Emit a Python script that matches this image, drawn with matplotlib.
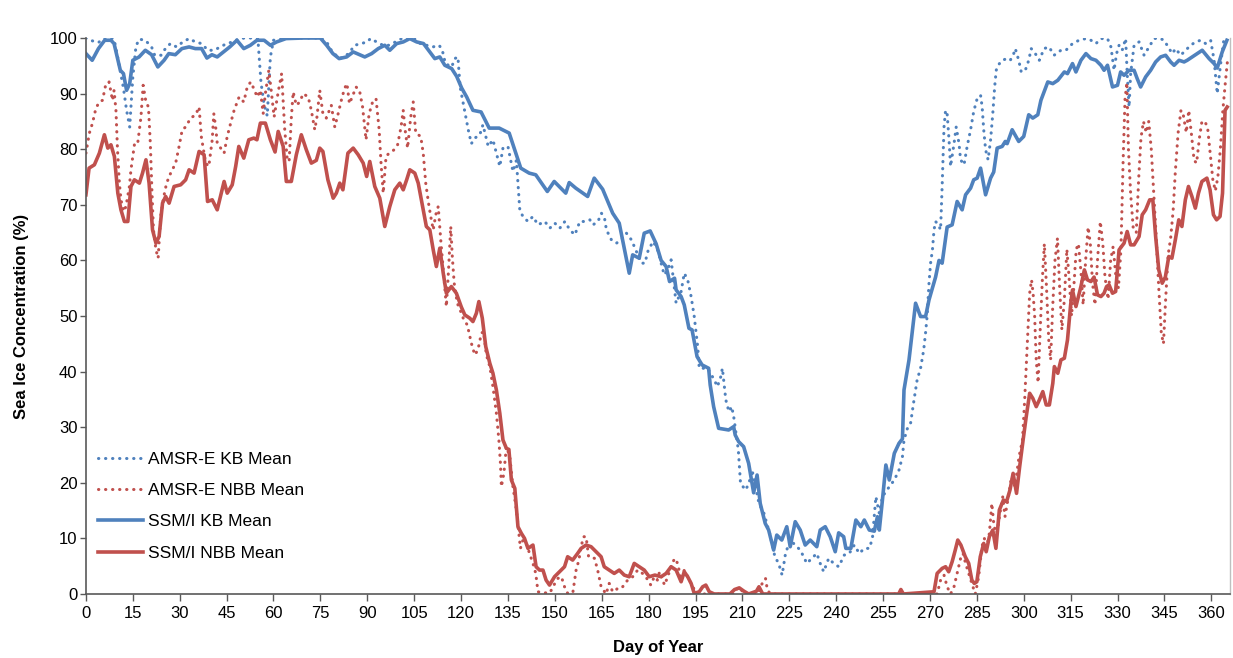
import matplotlib
matplotlib.use('Agg')
import matplotlib.pyplot as plt

plt.rcParams['font.family'] = ['Liberation Sans', 'DejaVu Sans']

# SSM/I KB Mean (solid blue)
ssmi_kb_day = [0, 2, 4, 6, 8, 9, 10, 11, 12, 13, 14, 15, 17, 19, 21, 23, 25, 26.5, 28.6, 30.7,
               33, 35, 37, 38.7, 40.3, 42, 44, 46, 48.3, 50.5, 52.6, 54.7, 57, 59, 61, 64, 69.5, 75, 77, 79,
               81, 83.4, 85.5, 87.6, 89.2, 91.4, 93.5, 95.6, 97.2, 99.4, 101.5, 103.6, 105.8, 108, 110, 111.6,
               113.2, 114.8, 117, 118.6, 120.2, 121.8, 123.8, 126.4, 129, 132.2, 135.4, 139.1, 141.8, 143.9,
               147.6, 149.8, 153.5, 154.6, 156.7, 160.5, 162.6, 165.3, 168.5, 170.6, 173.8, 174.9, 177, 178.6,
               180.5, 182.4, 184, 185.6, 186.7, 188.3, 188.8, 190.4, 191.4, 192.9, 193.9, 195.5, 197.1, 199.2,
               199.7, 200.8, 202.4, 205.6, 207.2, 207.7, 208.8, 210.4, 212, 213.6, 214.7, 215.7, 217.3, 218.4,
               220, 221, 222.6, 224.2, 225.3, 226.9, 228.5, 230.1, 231.7, 233.8, 234.9, 236.5, 238.1, 239.7,
               240.8, 242.4, 243.1, 244.7, 246.3, 247.9, 249, 250.6, 252.2, 253.2, 253.8, 254.8, 255.9, 257,
               258.6, 260.1, 261.2, 261.7, 263.3, 264.4, 265.4, 267, 268.6, 269.7, 271.8, 272.9, 273.9, 275.5,
               277.1, 278.7, 280.3, 281.4, 283, 284, 285.1, 286.2, 287.8, 289.4, 290.4, 291.5, 293.1, 294.1,
               294.7, 296.3, 298.4, 300, 301.6, 302.9, 304.5, 305.5, 307.7, 309.3, 310.9, 313, 314, 315.6,
               316.7, 318.3, 319.9, 321.5, 323.1, 324.7, 325.7, 326.8, 328.4, 330, 331, 332.1, 333.7, 335.3,
               336.3, 337.4, 339, 340.6, 342.2, 343.8, 345.4, 347, 348.1, 349.7, 351.3, 352.3, 353.9, 355.5,
               357.1, 359.3, 360.9, 361.9, 363.5, 365]
ssmi_kb_val = [97.2, 96, 98.1, 99.6, 99.6, 99, 96.6, 94.2, 93.6, 90.6, 91.8, 96, 96.6, 97.8, 97, 94.8, 96, 97.2, 97, 98.1,
               98.4, 98.1, 98.1, 96.4, 97, 96.6, 97.5, 98.4, 99.6, 98.1, 98.7, 99.6, 99.6, 98.7, 99.3, 99.9, 100, 100, 98.7, 97.2,
               96.3, 96.6, 97.5, 97, 96.6, 97.2, 98.1, 98.7, 97.8, 99, 99.3, 99.9, 99.3, 99, 97.5, 96.3,
               96.6, 95.1, 94.5, 93.1, 91, 89.4, 87, 86.7, 83.8, 83.8, 82.9, 76.6, 75.7, 75.4,
               72.4, 74.2, 72.1, 74, 73, 71.5, 74.8, 72.8, 68.5, 66.7, 57.7, 61, 60.4, 64.9,
               65.3, 63, 60, 58.9, 56.2, 56.8, 54.7, 53.5, 52, 47.8, 47.5, 42.7, 41.2, 40.6,
               37.6, 33.7, 29.8, 29.5, 30.1, 28.6, 27.4, 26.5, 23.5, 18.2, 21.4, 16.3, 12.7, 11.5,
               7.9, 10.6, 9.7, 12.1, 8.5, 13, 11.5, 8.8, 9.7, 8.5, 11.5, 12.1, 10.3, 7.6,
               11, 10.3, 8.2, 8.2, 13.3, 12.1, 13.3, 11.5, 11.3, 13.9, 11.5, 16.9, 23.2, 20.5,
               25.3, 27.1, 27.9, 36.7, 42.1, 47.5, 52.3, 49.9, 49.9, 52.9, 57, 60, 59.5, 66,
               66.4, 70.6, 69.1, 71.8, 73, 74.5, 74.8, 76.6, 71.8, 74.8, 75.9, 80.2, 80.5, 81.4,
               81, 83.5, 81.4, 82.3, 86.2, 85.6, 86.2, 88.8, 92.1, 91.8, 92.4, 93.9, 93.6, 95.4,
               93.9, 96, 97.2, 96.3, 96, 95.1, 94.2, 95.1, 91.2, 91.5, 93.9, 93.3, 94.2, 94.2,
               92.7, 91.2, 93, 94.2, 95.7, 96.6, 96.9, 95.7, 95.1, 96, 95.7, 96, 96.6, 97.2,
               97.8, 96.3, 95.4, 94.6, 97.5, 99.6]

# AMSR-E KB Mean (dotted blue)
amsr_kb_day = [0, 2, 4, 6, 8, 9, 10, 11, 12, 13, 14, 15, 16, 17, 19, 21, 22, 24, 25, 27, 29, 31, 33, 35, 37, 39,
               41, 43, 45, 47, 49, 51, 53, 55, 56, 57, 58, 59, 60, 65, 70, 75, 77, 78.5, 81, 82.5, 84, 86, 88, 90,
               91, 93, 95, 97, 99, 101, 103, 105, 107, 109, 111, 113, 114, 115, 117, 118, 119, 119.7, 121, 122.3,
               123.3, 124.4, 126, 127, 128.7, 130.2, 131.3, 132.4, 133.4, 135, 136.6, 137.7, 138.2, 138.8, 139.8,
               141.4, 143, 144.6, 146.8, 148.4, 150, 151.6, 153.2, 154.8, 156.4, 158, 159.6, 161.2, 162.2, 163.8,
               164.9, 165.9, 166.5, 168.1, 169.7, 171.3, 172.9, 174.5, 176.1, 177.7, 178.8, 179.9, 181.5, 183.1,
               184, 185, 186.1, 187.2, 188.8, 190.4, 191.4, 192.5, 193.6, 194.6, 195.7, 196.2, 198.9, 201, 202,
               203.1, 203.6, 204.7, 205.7, 206.6, 207.3, 208.7, 209.4, 211, 212.1, 213.1, 214.2, 215.3, 216.9,
               219, 220.4, 221.6, 222.7, 223.8, 225.3, 226.9, 228.5, 229.6, 230.6, 232.2, 233.8, 234.9, 236,
               237.6, 239.2, 240.8, 242.6, 244.2, 245.8, 247.4, 249, 250.6, 251.6, 252.7, 253.8, 254.8, 255.9,
               257, 258.6, 260.1, 261.2, 261.7, 262.8, 263.8, 264.9, 265.9, 267, 268, 268.6, 269.1, 269.7, 270.2,
               270.8, 271.3, 271.8, 272.7, 273.4, 273.9, 274.5, 275, 275.5, 276.1, 276.6, 277.7, 278.4, 279.3,
               279.8, 280.9, 281.9, 283, 284, 285.1, 286.2, 286.7, 287.2, 287.8, 288.6, 289.4, 290.1, 290.7,
               291.2, 291.8, 293.1, 294.7, 295.7, 296.8, 297.3, 298.4, 299.2, 300.5, 301.6, 302.4, 303.7, 305,
               306.5, 308.1, 309.7, 311.9, 313.5, 315.6, 317.7, 319.9, 321.5, 323.1, 324.7, 326.8, 327.9, 328.9,
               329.7, 330.5, 331.5, 332.6, 333.1, 333.7, 334.2, 335.3, 336.9, 338.5, 340.1, 341.7, 343.3, 344.9,
               346.5, 347.5, 348.6, 350.2, 351.8, 353.4, 355, 356.6, 358.2, 359.8, 360.9, 361.9, 363, 364, 365]
amsr_kb_val = [100, 99.5, 99.2, 100, 100, 99.8, 97, 94, 91, 87, 84, 93, 98.5, 99.8, 99.6, 98.4, 96.9, 96.9, 97.8, 99, 98.4, 99.3, 99.9, 99.3, 99, 97.8,
               97.8, 98.4, 99, 99.3, 99.9, 100, 100, 99.9, 92, 88, 86, 96.6, 99.6, 100, 100, 100, 99.3, 97.8, 96.3, 96.6, 97.2, 98.7, 99, 99.3,
               99.9, 99.3, 98.7, 98.7, 99.3, 99.9, 100, 99.9, 99, 98.7, 98.4, 98.7, 97.8, 95.4, 94.8, 96.3, 96.6, 91.2, 87.3, 83.5,
               81, 82, 82.6, 84.4, 80.5, 81.7, 79.3, 76.9, 80.2, 80.5, 76, 78, 73.9, 69, 67.9,
               67, 67.9, 66.4, 67, 65.8, 66.7, 65.8, 67, 65.5, 64.6, 67, 67, 67.3, 66.4, 67,
               68.5, 67.6, 65.5, 63.7, 63.1, 63.7, 64.9, 63.7, 61.6, 59.5, 59.5, 61.9, 63.4, 61.6,
               59.5, 57.4, 58.3, 60.1, 52.3, 54.4, 57.7, 56.5, 53.5, 49.9, 44.5, 40.6, 40.6, 38.5, 37.3,
               39.1, 40.6, 34.9, 32.8, 33.7, 31.6, 25.9, 19.9, 18.7, 19.9, 22.3, 19.3, 16.3, 14.5,
               10.3, 6.7, 5.5, 3.4, 7.3, 9.7, 8.8, 7.9, 6.7, 5.5, 6.4, 7.3, 5.5, 4,
               6.4, 5.5, 4.9, 7, 7.3, 8.8, 7.3, 8.2, 8.2, 10, 17.5, 14.5, 17.5, 18.4,
               19.3, 20.5, 22.3, 24.7, 27.7, 29.8, 30.7, 34.9, 38.5, 40.6, 43.9, 47, 50, 55.9, 59.5,
               61.9, 65.5, 67, 66.4, 65.5, 73.3, 84, 87, 86.4, 81.7, 76.9, 81, 84, 81,
               78.1, 77.2, 80.5, 83.5, 86.8, 89.1, 89.7, 87.6, 83.5, 79.9, 78.1, 81.7, 86.4, 91.2,
               94.2, 95.1, 96, 96.3, 96, 97.2, 98.1, 96, 93.9, 94.2, 96, 98.1, 97.2, 96,
               98.1, 98.4, 96.9, 97.8, 97.8, 99, 99.6, 99.9, 99.6, 99, 99.9, 99.9, 98.4, 94.2,
               97.2, 98.7, 97.8, 99.9, 93.6, 87.6, 93.6, 98.7, 99.3, 96.9, 98.4, 99.9, 100, 99.6,
               98.1, 97.2, 98.1, 96.9, 97.8, 98.7, 99.3, 99.6, 99, 99.6, 96, 90, 95.4, 99.6, 100]

# SSM/I NBB Mean (solid red)
ssmi_nbb_day = [0, 1, 2.7, 4.3, 5.9, 7, 8, 9.1, 10.2, 11.2, 12.3, 13.4, 14.4, 15.5, 17.1, 18.1, 19.2, 20.2, 21.3,
                22.4, 23.4, 24.5, 25.5, 26.6, 28.2, 30.3, 31.9, 33, 34.6, 36.2, 37.8, 38.9, 40.4, 42, 44.2, 45.2,
                46.8, 47.9, 48.9, 50.5, 52.1, 53.7, 54.7, 55.8, 57.4, 59, 60.5, 61.5, 63.1, 64.1, 65.7, 67.3, 68.9,
                70.5, 72.1, 73.7, 74.8, 75.8, 77.4, 79.1, 80.1, 81.2, 82.2, 83.8, 85.5, 87.1, 88.7, 89.8, 90.8,
                92.4, 94, 95.6, 97.2, 98.8, 100.4, 101.5, 102.6, 103.6, 105.2, 106.3, 107.9, 108.9, 110, 111.1,
                112.1, 113.2, 114.3, 115.3, 116.9, 118.5, 120.1, 121.2, 122.8, 123.8, 124.9, 125.7, 126.8, 127.9,
                129.2, 130.2, 131.3, 132.4, 133.4, 134.5, 135.3, 136.1, 137.2, 138.2, 139.3, 140.3, 141.4, 143,
                144, 145.1, 146.2, 147.2, 148.3, 149.9, 151.5, 153.1, 154.1, 155.7, 157.3, 158.4, 160, 161.6,
                163.2, 164.8, 165.8, 167.4, 169, 170.6, 172.2, 173.8, 175.4, 177, 178.6, 180.2, 182, 184, 185.6,
                187.2, 188.8, 190.4, 191.4, 192.5, 193.6, 194.6, 196.2, 197.3, 198.3, 199.4, 201, 206, 207.5, 209,
                210.5, 212, 214.5, 215.3, 216.5, 260, 260.7, 261.5, 271.3, 272.3, 273.9, 275, 276, 277.1, 278.1,
                278.9, 279.9, 281.3, 282.4, 283.4, 284.2, 285, 286.1, 287.2, 288, 289, 290.1, 291.1, 292.2, 293.5,
                294.5, 295.6, 296.6, 297.7, 298.7, 299.8, 300.8, 301.9, 302.9, 304, 305, 306.1, 307.2, 308.2,
                309.3, 309.8, 310.9, 311.9, 313, 314, 315, 315.6, 316.7, 318.3, 319.4, 320.4, 321.5, 322.5, 323.6,
                324.7, 325.7, 326.5, 327.3, 328.4, 329.4, 330.5, 332.1, 333.1, 334.2, 335.3, 336.9, 337.9, 339,
                340.3, 341.3, 342.2, 343.2, 344.3, 345.3, 346.4, 347.4, 348.5, 349.6, 350.6, 351.7, 352.7, 353.8,
                354.9, 355.9, 357, 358.6, 359.6, 360.7, 361.7, 362.8, 363.6, 364.4, 365.1]
ssmi_nbb_val = [71.8, 76.6, 77.2, 79.3, 82.6, 80.2, 80.8, 78.7, 72.1, 69.1, 67, 67, 73.3, 74.5, 73.9, 75.7, 78.1, 73.9, 65.5,
                63.1, 64.3, 70.3, 71.5, 70.3, 73.3, 73.6, 74.5, 76.3, 75.7, 79.6, 79, 70.6, 70.9, 69.1, 74.2, 72.1,
                73.6, 76.9, 80.5, 78.4, 81.7, 82, 81.7, 84.7, 84.7, 81.7, 79.5, 83.2, 80.5, 74.2, 74.2, 79, 82.6,
                79.9, 77.5, 78, 80.2, 79.6, 74.5, 71.2, 72.1, 73.9, 72.7, 79.3, 80.2, 79, 77.5, 75.1, 77.8,
                73.3, 71.2, 66.1, 69.7, 72.7, 73.9, 72.7, 74.5, 76.3, 75.7, 73.9, 69.1, 66.1, 65.5, 61.9,
                58.9, 62.2, 57.7, 54.1, 55.3, 54.1, 51.6, 50.2, 49.6, 49, 50.5, 52.6, 49.6, 44.5,
                41.5, 39.7, 36.7, 32.5, 27.7, 26.2, 26, 20.5, 19, 12.1, 10.9, 10, 8.2, 8.8,
                4.9, 4.3, 4.3, 2.5, 1.6, 3.1, 4, 4.9, 6.7, 6.1, 7.3, 8.2, 8.8, 8.5,
                7.6, 6.7, 4.9, 4.3, 3.7, 4.3, 3.4, 3.1, 5.5, 4.9, 4.3, 3.1, 3.4, 3.1, 3.7,
                4.9, 4.3, 2.2, 4, 3.1, 1.9, 0.1, 0.4, 1.3, 1.6, 0.4, 0, 0, 0.8, 1.1,
                0.5, 0, 0.5, 1.3, 0, 0, 0.8, 0, 0.4, 3.7, 4.6, 4.9, 4, 5.8, 7.9,
                9.7, 8.8, 6.7, 5.5, 2.5, 1.9, 2.2, 6.7, 9.1, 7.6, 10.3, 11.5, 8.2, 15.1, 16.9,
                16.6, 18.7, 21.7, 18.1, 22.9, 27.7, 31.9, 36.1, 35.2, 33.7, 34.9, 36.4, 34, 34,
                37.9, 40.9, 39.7, 42.1, 42.4, 45.7, 52, 54.7, 51.7, 55.3, 58.3, 56.5, 56.2, 57, 53.8,
                53.5, 54.1, 55.3, 55.6, 54.1, 54.4, 61.9, 63.1, 65.2, 62.8, 62.8, 64.3, 68.2, 69.1,
                70.9, 70.9, 64.3, 58.3, 55.9, 57, 60.7, 60.4, 63.7, 67.3, 66.1, 70.9, 73.3, 71.5,
                69.4, 72.1, 74.2, 74.8, 72.7, 68.2, 67.3, 67.9, 72.1, 87, 87.6]

# AMSR-E NBB Mean (dotted red)
amsr_nbb_day = [0, 1.1, 2.1, 3.2, 4.3, 5.3, 6.4, 7.4, 8.5, 9, 9.6, 10.1, 10.7, 11.2, 12.1, 12.8, 13.9, 14.4, 15.5,
                16.5, 17.6, 18.3, 19.2, 20, 20.6, 21.1, 21.6, 22.4, 23.1, 23.9, 24.8, 25.8, 27.1, 28.7, 29.8, 30.8,
                31.9, 33.5, 35.1, 36.2, 36.9, 38.3, 39.3, 40.4, 40.9, 41.5, 42, 43.1, 44.2, 45.2, 46.3, 47.4, 49,
                50.5, 51.6, 52.7, 53.7, 54.8, 55.8, 56.7, 57.4, 58.5, 59.2, 60.2, 61.5, 62.6, 63.6, 64.4, 65, 65.7,
                66.3, 67.3, 68.4, 69.5, 71.1, 72.1, 73.2, 73.9, 74.8, 75.8, 76.9, 78.5, 79.6, 80.6, 81.7, 82.7,
                83.5, 84.3, 85.4, 86.4, 87.5, 88.5, 89.6, 90.6, 91.7, 92.8, 93.8, 94.4, 95.1, 96, 97, 98.6, 99.7,
                100.8, 101.5, 102.1, 102.9, 103.9, 104.7, 105.5, 107.1, 107.9, 108.7, 109.6, 110.3, 111.1, 111.9,
                112.7, 113.5, 114.3, 115.3, 116, 116.7, 117.2, 117.8, 118.8, 119.9, 120.9, 122, 123.3, 124.4,
                125.4, 126.5, 127.2, 128.1, 129.2, 130.2, 131.3, 132.1, 132.6, 132.9, 133.7, 134.5, 135.6, 136.6,
                137.7, 138.5, 139, 139.8, 140.9, 141.9, 143, 143.9, 144.6, 146.2, 148.4, 150, 151, 152.1, 153.1,
                154.2, 155.8, 156.8, 157.7, 158.4, 159.2, 160, 160.8, 161.6, 162.7, 163.7, 164.8, 166.4, 167.4,
                168.5, 169.5, 170.6, 171.7, 173.3, 174.9, 176.5, 177.5, 179.1, 180.7, 181.8, 182.8, 183.5, 185.1,
                186.1, 187.2, 188.3, 189.3, 190.4, 191.4, 192.5, 194.1, 195.5, 207, 208, 209, 210, 211, 215, 215.8,
                216.9, 217.4, 218, 219, 272.3, 273.4, 274.5, 275.5, 276.6, 277.7, 278.7, 279.8, 280.6, 281.4,
                282.4, 283.4, 284.5, 285.6, 286.6, 287.4, 288.2, 289, 289.8, 290.5, 291.4, 292.4, 293.3, 294,
                295.1, 296.1, 297.2, 298.5, 299.6, 300.3, 300.8, 301.4, 301.9, 302.5, 303, 303.5, 304, 304.6,
                305.3, 306, 306.6, 307.3, 308, 308.6, 309.3, 310, 310.8, 311.5, 312.2, 313, 313.8, 314.5, 315.3,
                316, 316.8, 317.5, 318.3, 319, 319.8, 320.6, 321.3, 322, 322.8, 323.6, 324.5, 325.3, 326, 327,
                327.8, 328.6, 329.5, 330.3, 331.1, 331.8, 332.4, 333, 333.5, 334.2, 335, 336, 336.8, 337.5, 338.3,
                339.2, 340, 340.8, 341.6, 342.4, 343.2, 344, 344.7, 345.4, 346.2, 347, 347.8, 348.5, 349.4, 350.3,
                351.1, 352, 352.8, 353.6, 354.5, 355.3, 356.2, 357, 357.9, 358.8, 359.7, 360.5, 361.3, 362.1,
                362.9, 363.7, 364.5, 365.2]
amsr_nbb_val = [79.3, 82.9, 84.7, 87.4, 88.5, 88.8, 91.8, 92.1, 88.8, 90.6, 87, 79.9, 73.9, 70.9, 68.8, 69.7, 73.3, 76.3, 80.8,
                80.8, 85.8, 91.5, 88.5, 87.6, 81, 72.7, 65.5, 61.9, 60.4, 67.9, 71.2, 73.9, 75.7, 77.5, 80.5, 83.5,
                84, 85.6, 86.2, 87.6, 82.3, 77.5, 76.9, 81.7, 86.4, 84, 81.1, 80.2, 79.3, 82.3, 84.7, 87, 89.4,
                88.5, 91.2, 92.1, 90.9, 89.4, 90.6, 86.4, 90, 94.2, 90.9, 85.8, 90.3, 93.6, 83.5, 78.1, 77.8, 85.6,
                90.3, 87.9, 88.5, 90, 89.4, 87, 83.5, 85.8, 90.6, 86.4, 85.6, 87.9, 84, 86.2, 88.8, 90.9,
                91.8, 88.2, 89.7, 91.2, 90.6, 87.6, 81.7, 86.4, 88.5, 89.1, 83.5, 77.5, 72.1, 78.7, 79.3, 79.9, 80.8,
                84, 87, 83.5, 80.2, 85.8, 88.5, 82.9, 82.3, 79.3, 73.9, 70.3, 67.9, 65.5, 68.2,
                69.7, 63.7, 58.3, 51.7, 58.3, 66.1, 60.7, 55.9, 52.3, 50.8, 49.3, 48.4, 45.1, 43,
                43.9, 46.9, 47.2, 43, 40.9, 37.3, 32.5, 27.7, 23.5, 19.3, 21.7, 26.5, 24.7, 19.3,
                15.1, 10.9, 8.2, 9.7, 9.1, 7.3, 5.5, 3.7, 0.4, 0.2, 0.2, 1.9, 2.8, 3.1, 1.3,
                0, 0.4, 4.3, 6.1, 8.5, 10.3, 10.3, 6.7, 6.7, 6.4, 4.3, 1.3, 0, 1.9,
                0.4, 0.7, 1.3, 1.3, 2.5, 3.1, 4.3, 4, 3.1, 1.6, 3.1, 2.5, 4, 1.6,
                3.1, 4.9, 6.4, 5.5, 2.5, 4.3, 3.1, 1.3, 0, 0, 0.8, 1.2, 0.5, 0, 0, 1.3,
                2.5, 2.8, 0.7, 0, 0, 2.5, 3.4, 1.3, 0, 1.3, 3.7, 6.4, 7.3, 5.5,
                3.7, 1.9, 0, 3.1, 8.5, 10, 8.5, 10.9, 16.3, 12.1, 10.9, 14.5, 17.5, 13.9,
                17.5, 21.1, 19.3, 24.7, 27.7, 34.9, 40.9, 48.1, 54.1, 56.5, 54.1, 49.9, 42, 38,
                48, 57, 63, 55, 45.7, 42.1, 52, 60, 64, 55, 47.5, 53, 62, 57, 50,
                55, 62, 63, 58, 52, 60, 66, 63, 56, 52, 60, 67, 63, 57, 53,
                60, 62.5, 57, 55, 62, 78, 89, 92, 80, 72, 66, 65, 75, 82, 85,
                83, 85, 80, 72, 64, 55, 47, 45, 53, 61, 64, 69, 76, 83, 87,
                86, 83, 87, 83, 78, 77.5, 82, 85, 85, 84, 79, 74.5, 72.5, 75,
                80, 87, 92, 96]

blue = '#4F81BD'
red = '#C0504D'

fig = plt.figure(figsize=(12.33, 6.58), dpi=100)
ax = fig.add_axes([0.0697, 0.0973, 0.9279, 0.8449])

dots = (0, (0.1, 2.2))
ax.plot(amsr_kb_day, amsr_kb_val, color=blue, lw=2.2, linestyle=dots,
        dash_capstyle='round', label='AMSR-E KB Mean')
ax.plot(amsr_nbb_day, amsr_nbb_val, color=red, lw=2.2, linestyle=dots,
        dash_capstyle='round', label='AMSR-E NBB Mean')
ax.plot(ssmi_kb_day, ssmi_kb_val, color=blue, lw=2.6, label='SSM/I KB Mean')
ax.plot(ssmi_nbb_day, ssmi_nbb_val, color=red, lw=2.6, label='SSM/I NBB Mean')

ax.set_xlim(0, 366)
ax.set_ylim(0, 100)
ax.set_xticks(range(0, 361, 15))
ax.set_yticks(range(0, 101, 10))
ax.tick_params(axis='x', direction='out', length=5, width=1, color='#595959', labelsize=12, pad=4)
ax.tick_params(axis='y', direction='out', length=4, width=1, color='#595959', labelsize=12, pad=2)

for side in ['left', 'bottom']:
    ax.spines[side].set_color('#595959')
    ax.spines[side].set_linewidth(1.2)
ax.spines['top'].set_visible(False)
ax.spines['right'].set_color('#BFBFBF')
ax.spines['right'].set_linewidth(1)

ax.set_xlabel('Day of Year', fontsize=12, fontweight='bold', labelpad=13)
ax.set_ylabel('Sea Ice Concentration (%)', fontsize=12, fontweight='bold', labelpad=15)

ax.legend(loc='lower left', bbox_to_anchor=(0.0, 0.038), frameon=False, fontsize=12.5,
          handlelength=2.6, handletextpad=0.3, labelspacing=0.93, borderaxespad=0.3)

fig.savefig('out.png', dpi=100)
